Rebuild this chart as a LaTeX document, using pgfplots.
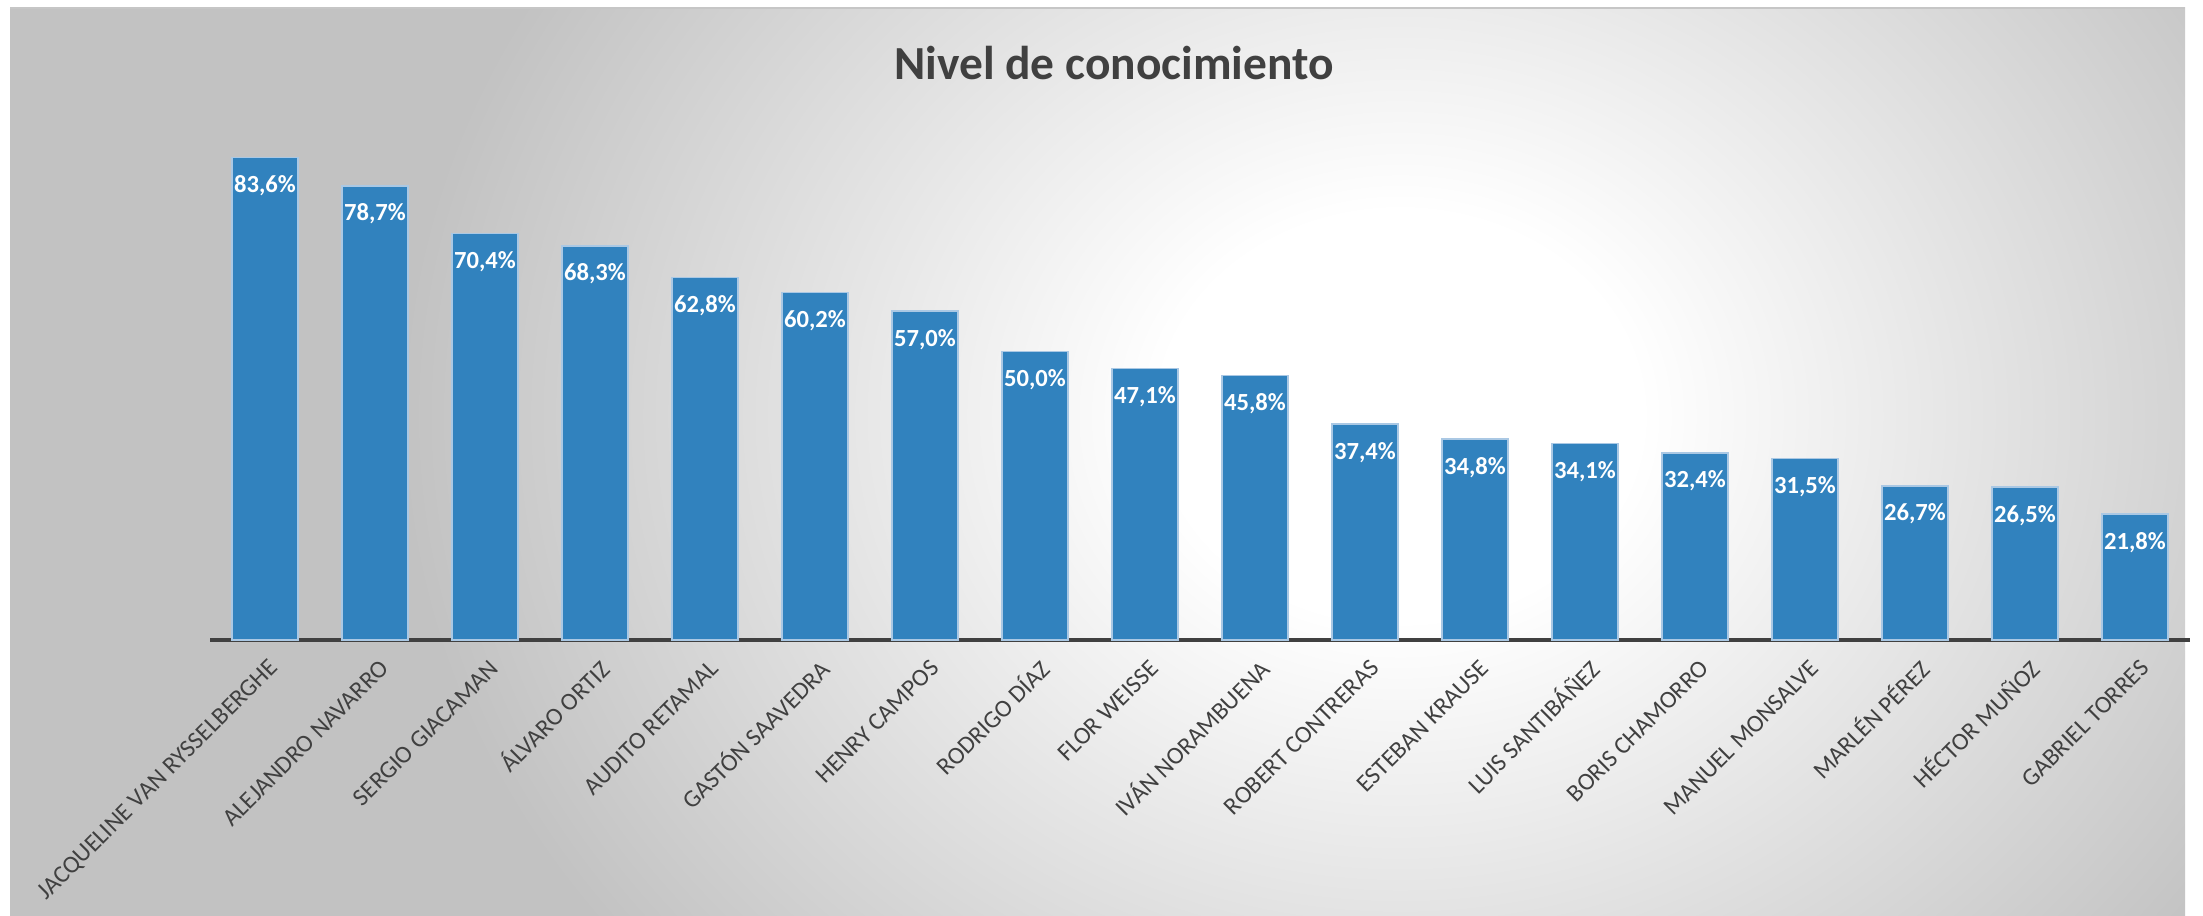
\documentclass[border=0pt]{standalone}
\usepackage{pgfplots}
\pgfplotsset{compat=1.18}
\usepackage{fontspec}
\setmainfont{Carlito}
\definecolor{barblue}{RGB}{49,130,190}
\definecolor{baredge}{RGB}{170,200,228}
\definecolor{axgrey}{RGB}{64,64,64}
\definecolor{labgrey}{RGB}{64,64,64}
\definecolor{bgouter}{RGB}{194,194,194}
\pgfdeclareradialshading{bgshade}{\pgfpoint{0bp}{0bp}}{color(0bp)=(white); color(6bp)=(white); color(25bp)=(bgouter); color(50bp)=(bgouter)}
\begin{document}
\begin{tikzpicture}
\useasboundingbox (0,0) rectangle (220.3mm,91.6mm);
\fill[white] (0,0) rectangle (220.3mm,91.6mm);
\begin{scope}
\clip (1mm,0) rectangle (218.5mm,90.8mm);
\fill[bgouter] (1mm,0) rectangle (218.5mm,90.8mm);
\shade[shading=bgshade] (40mm,-35mm) rectangle (240mm,135mm);
\end{scope}
\draw[gray!45, line width=0.3pt] (1mm,90.8mm) -- (218.5mm,90.8mm);
\node[font=\bfseries\fontsize{13.5}{15}\selectfont, text=axgrey] at (111.4mm,85.3mm) {Nivel de conocimiento};
\begin{axis}[
  at={(21.0mm,27.6mm)}, anchor=south west,
  scale only axis, width=198mm, height=57.7mm,
  xmin=-0.5, xmax=17.5, ymin=0, ymax=100,
  axis y line=none,
  axis x line*=bottom,
  x axis line style={draw=axgrey, line width=1.1pt, -},
  xtick=data,
  major tick length=0pt,
  xticklabels={JACQUELINE VAN RYSSELBERGHE, ALEJANDRO NAVARRO, SERGIO GIACAMAN, ÁLVARO ORTIZ, AUDITO RETAMAL, GASTÓN SAAVEDRA, HENRY CAMPOS, RODRIGO DÍAZ, FLOR WEISSE, IVÁN NORAMBUENA, ROBERT CONTRERAS, ESTEBAN KRAUSE, LUIS SANTIBÁÑEZ, BORIS CHAMORRO, MANUEL MONSALVE, MARLÉN PÉREZ, HÉCTOR MUÑOZ, GABRIEL TORRES},
  xticklabel style={rotate=45, anchor=east, font=\fontsize{7}{8}\selectfont, text=labgrey, yshift=-2.4mm, xshift=0.2mm},
  ybar, bar width=0.6,
  nodes near coords={\pgfmathprintnumber{\pgfplotspointmeta}\%},
  point meta=y,
  /pgf/number format/.cd, use comma, fixed, fixed zerofill, precision=1, assume math mode=true,
  /pgfplots/.cd,
  every node near coord/.append style={anchor=center, yshift=-8pt, text=white, font=\bfseries\fontsize{7}{8}\selectfont},
  clip=false,
]
\addplot[fill=barblue, draw=baredge, line width=0.4pt] coordinates {
(0,83.6) (1,78.7) (2,70.4) (3,68.3) (4,62.8) (5,60.2) (6,57.0) (7,50.0) (8,47.1)
(9,45.8) (10,37.4) (11,34.8) (12,34.1) (13,32.4) (14,31.5) (15,26.7) (16,26.5) (17,21.8)
};
\end{axis}
\end{tikzpicture}
\end{document}
